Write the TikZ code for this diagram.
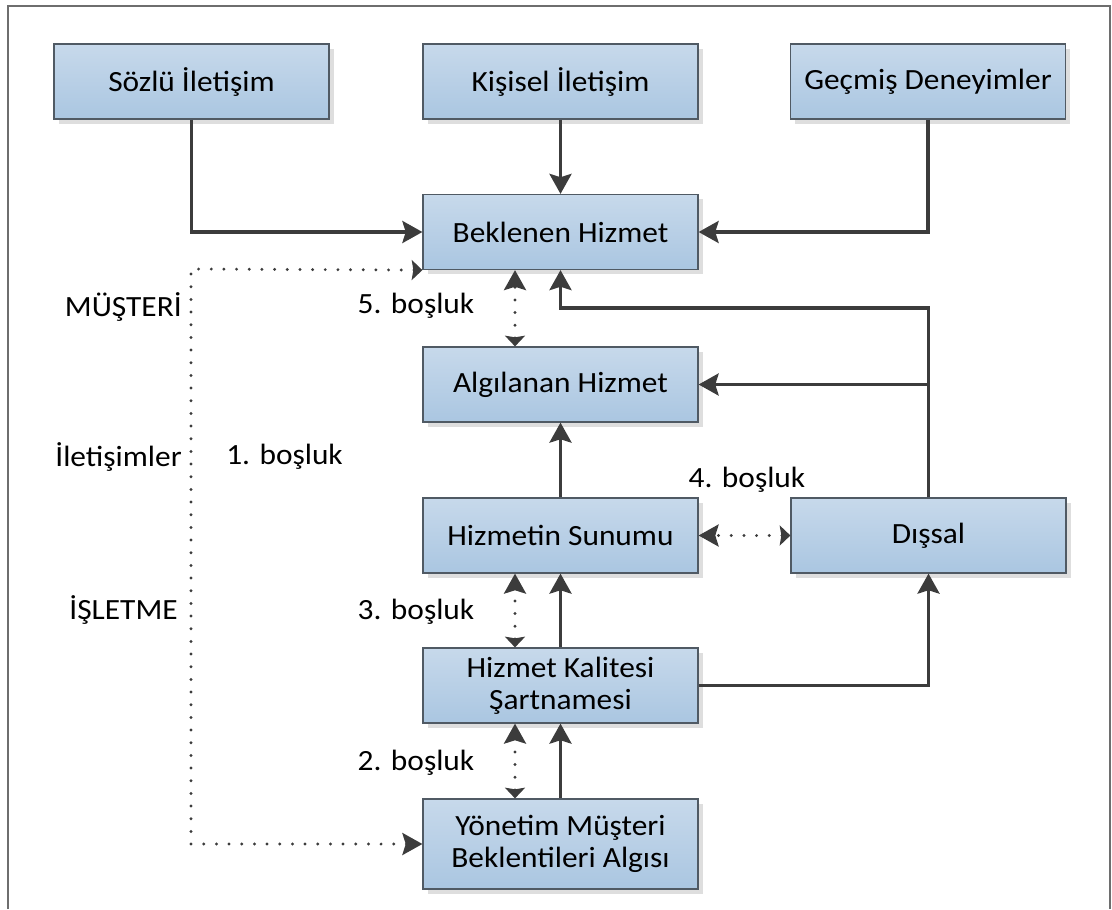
\documentclass[tikz,border=0pt]{standalone}
\usepackage{fontspec}
\setmainfont{Carlito}[FakeStretch=1.07]
\usetikzlibrary{arrows.meta,shadows,calc}
\definecolor{boxtop}{RGB}{199,217,235}
\definecolor{boxbot}{RGB}{170,198,225}
\definecolor{boxline}{RGB}{80,90,100}
\definecolor{conline}{RGB}{60,60,60}
\definecolor{dotline}{RGB}{60,60,60}
\definecolor{framecol}{RGB}{110,110,110}
\begin{document}
\begin{tikzpicture}[x=0.75pt,y=-0.75pt,
  stepbox/.style={rectangle, draw=boxline, line width=0.9pt,
    top color=boxtop, bottom color=boxbot,
    minimum width=206.25pt, minimum height=56.25pt, align=center,
    font=\fontsize{22}{24}\selectfont,
    drop shadow={shadow xshift=3.5pt, shadow yshift=-3.5pt, fill=black!13, opacity=1}},
  lbl/.style={font=\fontsize{22}{24}\selectfont, inner sep=0pt},
  FullTip/.tip={Stealth[length=15pt, width=16.5pt, inset=2.5pt]},
  ShortTip/.tip={Stealth[length=8pt, width=15pt, inset=1.2pt]},
  conn/.style={draw=conline, line width=2.6pt, -{FullTip}},
  dotted link/.style={draw=dotline, line width=2.4pt, line cap=round,
    dash pattern=on 0pt off 9.5pt, {ShortTip}-{FullTip}},
]
\useasboundingbox (0,0) rectangle (1112,909);
\draw[framecol, line width=1.1pt] (8,909) -- (8,6) -- (1110,6) -- (1110,909);

\node[stepbox] (sozlu)     at (191.5,81.5) {Sözlü İletişim};
\node[stepbox] (kisisel)   at (560.5,81.5) {Kişisel İletişim};
\node[stepbox] (gecmis)    at (928,81.5)   {Geçmiş Deneyimler};
\node[stepbox] (beklenen)  at (560.5,232)  {Beklenen Hizmet};
\node[stepbox] (algilanan) at (560.5,384.5) {Algılanan Hizmet};
\node[stepbox] (sunumu)    at (560.5,535.5) {Hizmetin Sunumu};
\node[stepbox] (dissal)    at (928.5,535.5) {Dışsal};
\node[stepbox] (kalitesi)  at (560.5,685.5) {Hizmet Kalitesi\\Şartnamesi};
\node[stepbox, minimum height=67.5pt] (yonetim) at (560.5,844) {Yönetim Müşteri\\Beklentileri Algısı};

\node[lbl, anchor=east] (musteri) at (182,307) {MÜŞTERİ};
\node[lbl, anchor=east] (iletisimler) at (182,457) {İletişimler};
\node[lbl, anchor=east] (isletme) at (178,610) {İŞLETME};
\node[lbl, anchor=west] (g1) at (226,457) {1. boşluk};
\node[lbl] (g5) at (416,306) {5. boşluk};
\node[lbl] (g4) at (747,480) {4. boşluk};
\node[lbl] (g3) at (416,612) {3. boşluk};
\node[lbl] (g2) at (416,763) {2. boşluk};

\coordinate (rt) at (928.5,308);
\coordinate (lc) at (191,269);

\draw[conn] (sozlu.south) |- (beklenen.west);
\draw[conn] (kisisel.south) -- (beklenen.north);
\draw[conn] (gecmis.south) |- (beklenen.east);
\draw[conn] (dissal.north) -- (rt) -| (beklenen.south);
\draw[conn] (dissal.north) |- (algilanan.east);
\draw[conn] (sunumu.north) -- (algilanan.south);
\draw[conn] (kalitesi.north) -- (sunumu.south);
\draw[conn] (kalitesi.east) -| (dissal.south);
\draw[conn] (yonetim.north) -- (kalitesi.south);

\draw[dotted link] ($(algilanan.north)+(-45.5,0)$) -- ($(beklenen.south)+(-45.5,0)$);
\draw[dotted link] ($(kalitesi.north)+(-45.5,0)$) -- ($(sunumu.south)+(-45.5,0)$);
\draw[dotted link] ($(yonetim.north)+(-45.5,0)$) -- ($(kalitesi.south)+(-45.5,0)$);
\draw[dotted link] (dissal.west) -- (sunumu.east);
\draw[dotted link] (beklenen.south west) -- (lc) |- (yonetim.west);
\end{tikzpicture}
\end{document}
